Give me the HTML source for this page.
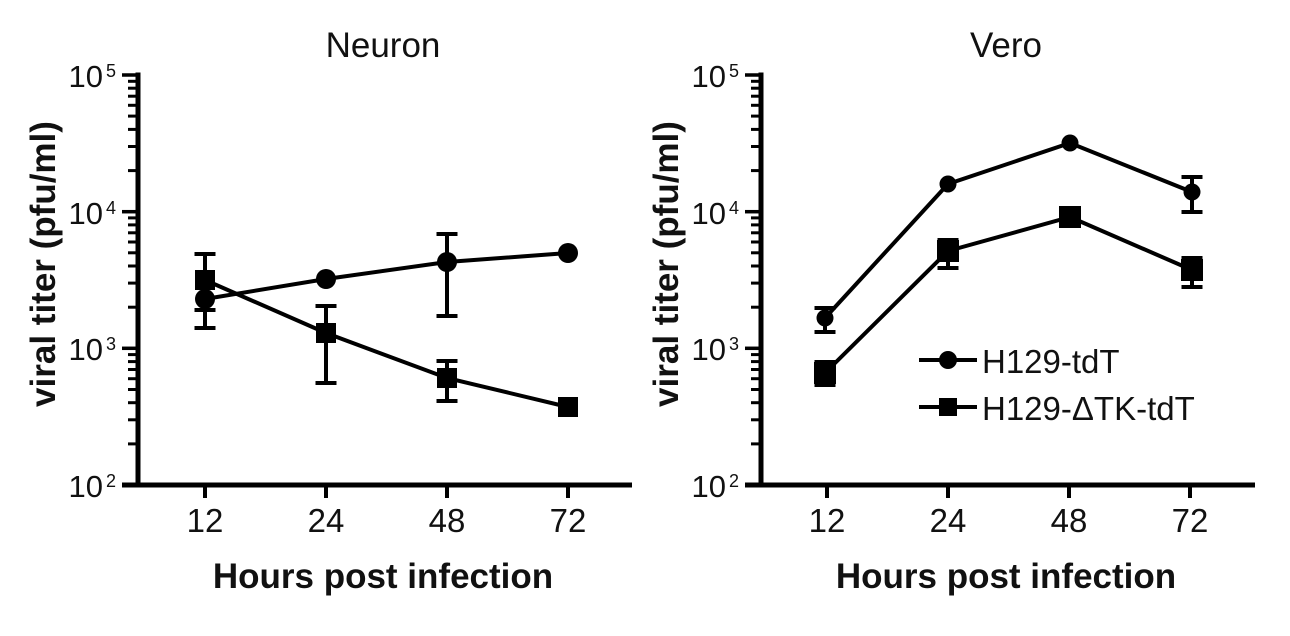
<!DOCTYPE html>
<html><head><meta charset="utf-8"><style>
html,body{margin:0;padding:0;background:#fff;}
svg{display:block;}
text{font-family:"Liberation Sans",Arial,sans-serif;fill:#111;}
</style></head><body>
<svg width="1290" height="636" viewBox="0 0 1290 636" xmlns="http://www.w3.org/2000/svg">
<rect width="1290" height="636" fill="#fff"/>

<!-- ===== LEFT PANEL ===== -->
<g stroke="#000" fill="none">
  <line x1="138" y1="72.5" x2="138" y2="487.5" stroke-width="5"/>
  <line x1="122" y1="485" x2="632" y2="485" stroke-width="5"/>
  <g stroke-width="3.5">
    <line x1="122" y1="75" x2="138" y2="75"/>
    <line x1="122" y1="211.7" x2="138" y2="211.7"/>
    <line x1="122" y1="348.3" x2="138" y2="348.3"/>
  </g>
  <g stroke-width="3">
    <line x1="128" y1="443.9" x2="138" y2="443.9"/><line x1="128" y1="419.8" x2="138" y2="419.8"/><line x1="128" y1="402.7" x2="138" y2="402.7"/><line x1="128" y1="389.5" x2="138" y2="389.5"/><line x1="128" y1="378.7" x2="138" y2="378.7"/><line x1="128" y1="369.5" x2="138" y2="369.5"/><line x1="128" y1="361.6" x2="138" y2="361.6"/><line x1="128" y1="354.6" x2="138" y2="354.6"/>
    <line x1="128" y1="307.2" x2="138" y2="307.2"/><line x1="128" y1="283.1" x2="138" y2="283.1"/><line x1="128" y1="266.0" x2="138" y2="266.0"/><line x1="128" y1="252.8" x2="138" y2="252.8"/><line x1="128" y1="242.0" x2="138" y2="242.0"/><line x1="128" y1="232.8" x2="138" y2="232.8"/><line x1="128" y1="224.9" x2="138" y2="224.9"/><line x1="128" y1="217.9" x2="138" y2="217.9"/>
    <line x1="128" y1="170.6" x2="138" y2="170.6"/><line x1="128" y1="146.5" x2="138" y2="146.5"/><line x1="128" y1="129.4" x2="138" y2="129.4"/><line x1="128" y1="116.1" x2="138" y2="116.1"/><line x1="128" y1="105.3" x2="138" y2="105.3"/><line x1="128" y1="96.2" x2="138" y2="96.2"/><line x1="128" y1="88.2" x2="138" y2="88.2"/><line x1="128" y1="81.3" x2="138" y2="81.3"/>
  </g>
  <g stroke-width="4">
    <line x1="205" y1="485" x2="205" y2="498"/>
    <line x1="326" y1="485" x2="326" y2="498"/>
    <line x1="447" y1="485" x2="447" y2="498"/>
    <line x1="568" y1="485" x2="568" y2="498"/>
  </g>
  <polyline points="205,299 326,279 447,262 568,253" stroke-width="4"/>
  <polyline points="205,280 326,333 447,378 568,407" stroke-width="4"/>
  <g stroke-width="4">
    <line x1="205" y1="254" x2="205" y2="328"/>
    <line x1="194.5" y1="254" x2="215.5" y2="254"/>
    <line x1="194.5" y1="310" x2="215.5" y2="310"/>
    <line x1="194.5" y1="328" x2="215.5" y2="328"/>
    <line x1="326" y1="306" x2="326" y2="383"/>
    <line x1="315.5" y1="306" x2="336.5" y2="306"/>
    <line x1="315.5" y1="383" x2="336.5" y2="383"/>
    <line x1="447" y1="234" x2="447" y2="316"/>
    <line x1="436.5" y1="234" x2="457.5" y2="234"/>
    <line x1="436.5" y1="316" x2="457.5" y2="316"/>
    <line x1="447" y1="361" x2="447" y2="401"/>
    <line x1="436.5" y1="361" x2="457.5" y2="361"/>
    <line x1="436.5" y1="401" x2="457.5" y2="401"/>
  </g>
</g>
<g fill="#000">
  <circle cx="205" cy="299" r="10"/>
  <circle cx="326" cy="279" r="10"/>
  <circle cx="447" cy="262" r="10"/>
  <circle cx="568" cy="253" r="10"/>
  <rect x="195" y="270" width="20" height="20"/>
  <rect x="316" y="323" width="20" height="20"/>
  <rect x="437" y="368" width="20" height="20"/>
  <rect x="558" y="397" width="20" height="20"/>
</g>
<text x="103" y="87" font-size="31" text-anchor="end">10</text><text x="106" y="77" font-size="18">5</text>
<text x="103" y="224" font-size="31" text-anchor="end">10</text><text x="106" y="214" font-size="18">4</text>
<text x="103" y="360" font-size="31" text-anchor="end">10</text><text x="106" y="350" font-size="18">3</text>
<text x="103" y="497" font-size="31" text-anchor="end">10</text><text x="106" y="487" font-size="18">2</text>
<g font-size="33" text-anchor="middle">
  <text x="205" y="532">12</text><text x="326" y="532">24</text><text x="447" y="532">48</text><text x="568" y="532">72</text>
</g>
<text x="383" y="588" font-size="35" font-weight="bold" text-anchor="middle">Hours post infection</text>
<text x="383" y="57" font-size="35" text-anchor="middle">Neuron</text>
<text transform="translate(55,264) rotate(-90)" font-size="35" font-weight="bold" text-anchor="middle">viral titer (pfu/ml)</text>

<!-- ===== RIGHT PANEL ===== -->
<g stroke="#000" fill="none">
  <line x1="761" y1="72.5" x2="761" y2="487.5" stroke-width="5"/>
  <line x1="745" y1="485" x2="1255" y2="485" stroke-width="5"/>
  <g stroke-width="3.5">
    <line x1="745" y1="75" x2="761" y2="75"/>
    <line x1="745" y1="211.7" x2="761" y2="211.7"/>
    <line x1="745" y1="348.3" x2="761" y2="348.3"/>
  </g>
  <g stroke-width="3">
    <line x1="751" y1="443.9" x2="761" y2="443.9"/><line x1="751" y1="419.8" x2="761" y2="419.8"/><line x1="751" y1="402.7" x2="761" y2="402.7"/><line x1="751" y1="389.5" x2="761" y2="389.5"/><line x1="751" y1="378.7" x2="761" y2="378.7"/><line x1="751" y1="369.5" x2="761" y2="369.5"/><line x1="751" y1="361.6" x2="761" y2="361.6"/><line x1="751" y1="354.6" x2="761" y2="354.6"/>
    <line x1="751" y1="307.2" x2="761" y2="307.2"/><line x1="751" y1="283.1" x2="761" y2="283.1"/><line x1="751" y1="266.0" x2="761" y2="266.0"/><line x1="751" y1="252.8" x2="761" y2="252.8"/><line x1="751" y1="242.0" x2="761" y2="242.0"/><line x1="751" y1="232.8" x2="761" y2="232.8"/><line x1="751" y1="224.9" x2="761" y2="224.9"/><line x1="751" y1="217.9" x2="761" y2="217.9"/>
    <line x1="751" y1="170.6" x2="761" y2="170.6"/><line x1="751" y1="146.5" x2="761" y2="146.5"/><line x1="751" y1="129.4" x2="761" y2="129.4"/><line x1="751" y1="116.1" x2="761" y2="116.1"/><line x1="751" y1="105.3" x2="761" y2="105.3"/><line x1="751" y1="96.2" x2="761" y2="96.2"/><line x1="751" y1="88.2" x2="761" y2="88.2"/><line x1="751" y1="81.3" x2="761" y2="81.3"/>
  </g>
  <g stroke-width="4">
    <line x1="827" y1="485" x2="827" y2="498"/>
    <line x1="948" y1="485" x2="948" y2="498"/>
    <line x1="1069" y1="485" x2="1069" y2="498"/>
    <line x1="1190" y1="485" x2="1190" y2="498"/>
  </g>
  <polyline points="825,318 948,184 1070,143 1192,192" stroke-width="4"/>
  <polyline points="825,373 948,251 1070,217 1192,270" stroke-width="4"/>
  <g stroke-width="4">
    <line x1="825" y1="308" x2="825" y2="332"/>
    <line x1="814.5" y1="308" x2="835.5" y2="308"/>
    <line x1="814.5" y1="332" x2="835.5" y2="332"/>
    <line x1="825" y1="362" x2="825" y2="385"/>
    <line x1="814.5" y1="362" x2="835.5" y2="362"/>
    <line x1="814.5" y1="385" x2="835.5" y2="385"/>
    <line x1="948" y1="240" x2="948" y2="268"/>
    <line x1="937.5" y1="240" x2="958.5" y2="240"/>
    <line x1="937.5" y1="268" x2="958.5" y2="268"/>
    <line x1="1192" y1="177" x2="1192" y2="212"/>
    <line x1="1181.5" y1="177" x2="1202.5" y2="177"/>
    <line x1="1181.5" y1="212" x2="1202.5" y2="212"/>
    <line x1="1192" y1="258" x2="1192" y2="287"/>
    <line x1="1181.5" y1="258" x2="1202.5" y2="258"/>
    <line x1="1181.5" y1="287" x2="1202.5" y2="287"/>
  </g>
  <line x1="919" y1="360" x2="977" y2="360" stroke-width="4"/>
  <line x1="919" y1="407" x2="977" y2="407" stroke-width="4"/>
</g>
<g fill="#000">
  <circle cx="825" cy="318" r="8.5"/>
  <circle cx="948" cy="184" r="8.5"/>
  <circle cx="1070" cy="143" r="8.5"/>
  <circle cx="1192" cy="192" r="8.5"/>
  <rect x="814" y="362" width="22" height="22"/>
  <rect x="937" y="240" width="22" height="22"/>
  <rect x="1059" y="206" width="22" height="22"/>
  <rect x="1181" y="259" width="22" height="22"/>
  <circle cx="948" cy="360" r="9"/>
  <rect x="939" y="398" width="18" height="18"/>
</g>
<text x="726" y="87" font-size="31" text-anchor="end">10</text><text x="729" y="77" font-size="18">5</text>
<text x="726" y="224" font-size="31" text-anchor="end">10</text><text x="729" y="214" font-size="18">4</text>
<text x="726" y="360" font-size="31" text-anchor="end">10</text><text x="729" y="350" font-size="18">3</text>
<text x="726" y="497" font-size="31" text-anchor="end">10</text><text x="729" y="487" font-size="18">2</text>
<g font-size="33" text-anchor="middle">
  <text x="827" y="532">12</text><text x="948" y="532">24</text><text x="1069" y="532">48</text><text x="1190" y="532">72</text>
</g>
<text x="1006" y="588" font-size="35" font-weight="bold" text-anchor="middle">Hours post infection</text>
<text x="1006" y="57" font-size="35" text-anchor="middle">Vero</text>
<text transform="translate(678,264) rotate(-90)" font-size="35" font-weight="bold" text-anchor="middle">viral titer (pfu/ml)</text>
<text x="982" y="373" font-size="33">H129-tdT</text>
<text x="982" y="420" font-size="33">H129-ΔTK-tdT</text>
</svg>
</body></html>
